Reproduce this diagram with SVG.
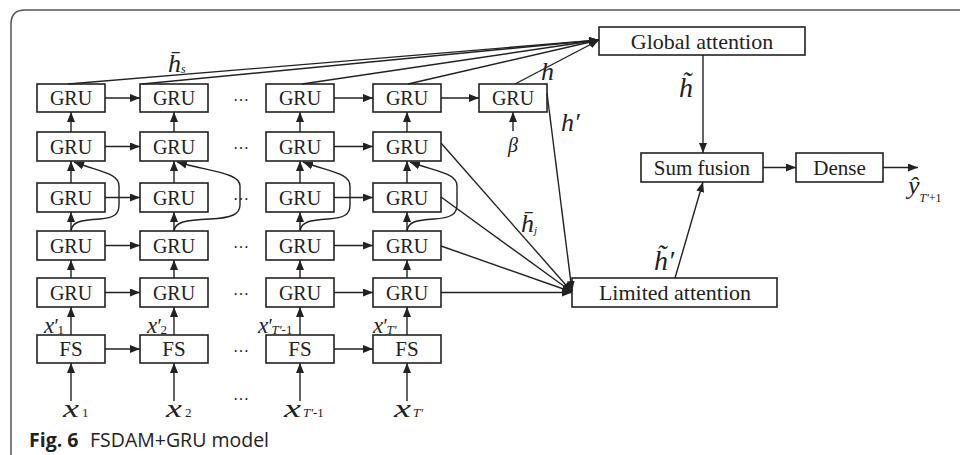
<svg xmlns="http://www.w3.org/2000/svg" width="960" height="455" viewBox="0 0 960 455">
<defs>
<marker id="ah" viewBox="0 0 10 8" refX="10" refY="4" markerWidth="10" markerHeight="8" markerUnits="userSpaceOnUse" orient="auto"><path d="M0,0 L10,4 L0,8 z" fill="#222"/></marker>
<style>
.box{fill:#fff;stroke:#222;stroke-width:1.6}
.lbl{font-family:"Liberation Serif","Times New Roman",serif;font-size:20px;fill:#222;text-anchor:middle}
.big{font-size:22px}
.mid{font-size:21px}
.var{font-family:"Liberation Serif","Times New Roman",serif;font-style:italic;fill:#222}
.sub{font-family:"Liberation Serif","Times New Roman",serif;font-size:13px;fill:#222}
.dots{font-family:"Liberation Serif",serif;font-size:16px;fill:#222;text-anchor:middle}
.c line,.c path{stroke:#222;stroke-width:1.4;fill:none}
.a{marker-end:url(#ah)}
.frame{fill:none;stroke:#555;stroke-width:1.5}
.cap{font-family:"Open Sans","Liberation Sans",sans-serif;font-size:19.5px;fill:#222}
</style>
</defs>
<rect width="960" height="455" fill="#fff"/>
<path class="frame" d="M11,455 L11,24 Q11,10 25,10 L960,10"/>

<!-- nodes -->
<g id="gru-1-1"><rect class="box" x="37" y="84" width="68" height="28"/><text class="lbl" x="71" y="105">GRU</text></g>
<g id="gru-1-2"><rect class="box" x="140" y="84" width="68" height="28"/><text class="lbl" x="174" y="105">GRU</text></g>
<g id="gru-1-3"><rect class="box" x="266" y="84" width="68" height="28"/><text class="lbl" x="300" y="105">GRU</text></g>
<g id="gru-1-4"><rect class="box" x="373" y="84" width="68" height="28"/><text class="lbl" x="407" y="105">GRU</text></g>
<g id="gru-1-5"><rect class="box" x="479" y="84" width="68" height="28"/><text class="lbl" x="513" y="105">GRU</text></g>

<g id="gru-2-1"><rect class="box" x="37" y="132" width="68" height="29"/><text class="lbl" x="71" y="153.5">GRU</text></g>
<g id="gru-2-2"><rect class="box" x="140" y="132" width="68" height="29"/><text class="lbl" x="174" y="153.5">GRU</text></g>
<g id="gru-2-3"><rect class="box" x="266" y="132" width="68" height="29"/><text class="lbl" x="300" y="153.5">GRU</text></g>
<g id="gru-2-4"><rect class="box" x="373" y="132" width="68" height="29"/><text class="lbl" x="407" y="153.5">GRU</text></g>

<g id="gru-3-1"><rect class="box" x="37" y="183" width="68" height="29"/><text class="lbl" x="71" y="204.5">GRU</text></g>
<g id="gru-3-2"><rect class="box" x="140" y="183" width="68" height="29"/><text class="lbl" x="174" y="204.5">GRU</text></g>
<g id="gru-3-3"><rect class="box" x="266" y="183" width="68" height="29"/><text class="lbl" x="300" y="204.5">GRU</text></g>
<g id="gru-3-4"><rect class="box" x="373" y="183" width="68" height="29"/><text class="lbl" x="407" y="204.5">GRU</text></g>

<g id="gru-4-1"><rect class="box" x="37" y="231" width="68" height="29"/><text class="lbl" x="71" y="252.5">GRU</text></g>
<g id="gru-4-2"><rect class="box" x="140" y="231" width="68" height="29"/><text class="lbl" x="174" y="252.5">GRU</text></g>
<g id="gru-4-3"><rect class="box" x="266" y="231" width="68" height="29"/><text class="lbl" x="300" y="252.5">GRU</text></g>
<g id="gru-4-4"><rect class="box" x="373" y="231" width="68" height="29"/><text class="lbl" x="407" y="252.5">GRU</text></g>

<g id="gru-5-1"><rect class="box" x="37" y="278" width="68" height="29"/><text class="lbl" x="71" y="299.5">GRU</text></g>
<g id="gru-5-2"><rect class="box" x="140" y="278" width="68" height="29"/><text class="lbl" x="174" y="299.5">GRU</text></g>
<g id="gru-5-3"><rect class="box" x="266" y="278" width="68" height="29"/><text class="lbl" x="300" y="299.5">GRU</text></g>
<g id="gru-5-4"><rect class="box" x="373" y="278" width="68" height="29"/><text class="lbl" x="407" y="299.5">GRU</text></g>

<g id="fs-1"><rect class="box" x="37" y="335" width="68" height="28"/><text class="lbl mid" x="71" y="356">FS</text></g>
<g id="fs-2"><rect class="box" x="140" y="335" width="68" height="28"/><text class="lbl mid" x="174" y="356">FS</text></g>
<g id="fs-3"><rect class="box" x="266" y="335" width="68" height="28"/><text class="lbl mid" x="300" y="356">FS</text></g>
<g id="fs-4"><rect class="box" x="373" y="335" width="68" height="28"/><text class="lbl mid" x="407" y="356">FS</text></g>

<g id="global-attention"><rect class="box" x="599" y="27" width="206" height="28"/><text class="lbl big" x="702" y="48.5">Global attention</text></g>
<g id="limited-attention"><rect class="box" x="572" y="278" width="205" height="29"/><text class="lbl big" x="675" y="300">Limited attention</text></g>
<g id="sum-fusion"><rect class="box" x="641" y="153" width="122" height="29"/><text class="lbl mid" x="702" y="174.5">Sum fusion</text></g>
<g id="dense"><rect class="box" x="796" y="153" width="87" height="29"/><text class="lbl mid" x="839.5" y="174.5">Dense</text></g>

<!-- connectors -->
<g id="connectors" class="c">
<line class="a" x1="105" y1="98" x2="140" y2="98"/>
<line class="a" x1="334" y1="98" x2="373" y2="98"/>
<line class="a" x1="441" y1="98" x2="479" y2="98"/>
<line class="a" x1="105" y1="146.5" x2="140" y2="146.5"/>
<line class="a" x1="334" y1="146.5" x2="373" y2="146.5"/>
<line class="a" x1="105" y1="197.5" x2="140" y2="197.5"/>
<line class="a" x1="334" y1="197.5" x2="373" y2="197.5"/>
<line class="a" x1="105" y1="245.5" x2="140" y2="245.5"/>
<line class="a" x1="334" y1="245.5" x2="373" y2="245.5"/>
<line class="a" x1="105" y1="292.5" x2="140" y2="292.5"/>
<line class="a" x1="334" y1="292.5" x2="373" y2="292.5"/>
<line class="a" x1="105" y1="349" x2="140" y2="349"/>
<line class="a" x1="334" y1="349" x2="373" y2="349"/>
<line class="a" x1="71" y1="401" x2="71" y2="363"/>
<line class="a" x1="71" y1="335" x2="71" y2="307"/>
<line class="a" x1="71" y1="278" x2="71" y2="260"/>
<line class="a" x1="71" y1="231" x2="71" y2="212"/>
<line class="a" x1="71" y1="183" x2="71" y2="161"/>
<line class="a" x1="71" y1="132" x2="71" y2="112"/>
<line class="a" x1="174" y1="401" x2="174" y2="363"/>
<line class="a" x1="174" y1="335" x2="174" y2="307"/>
<line class="a" x1="174" y1="278" x2="174" y2="260"/>
<line class="a" x1="174" y1="231" x2="174" y2="212"/>
<line class="a" x1="174" y1="183" x2="174" y2="161"/>
<line class="a" x1="174" y1="132" x2="174" y2="112"/>
<line class="a" x1="300" y1="401" x2="300" y2="363"/>
<line class="a" x1="300" y1="335" x2="300" y2="307"/>
<line class="a" x1="300" y1="278" x2="300" y2="260"/>
<line class="a" x1="300" y1="231" x2="300" y2="212"/>
<line class="a" x1="300" y1="183" x2="300" y2="161"/>
<line class="a" x1="300" y1="132" x2="300" y2="112"/>
<line class="a" x1="407" y1="401" x2="407" y2="363"/>
<line class="a" x1="407" y1="335" x2="407" y2="307"/>
<line class="a" x1="407" y1="278" x2="407" y2="260"/>
<line class="a" x1="407" y1="231" x2="407" y2="212"/>
<line class="a" x1="407" y1="183" x2="407" y2="161"/>
<line class="a" x1="407" y1="132" x2="407" y2="112"/>
<line class="a" x1="513" y1="131" x2="513" y2="112"/>
<path class="a" d="M71,231 C72,222 80,220 100,219 C114,218 119,214 119,205 L119,186 C119,173 100,172 74,162"/>
<path class="a" d="M174,231 C175,222 185,220 210,219 C232,218 240,214 240,205 L240,186 C240,173 212,172 177,162"/>
<path class="a" d="M300,231 C301,222 310,220 328,219 C345,218 350,214 350,205 L350,186 C350,173 330,172 303,162"/>
<path class="a" d="M407,231 C408,222 416,220 434,219 C451,218 457,214 457,205 L457,186 C457,173 437,172 410,162"/>
<line class="a" x1="68" y1="84" x2="599" y2="40"/>
<line class="a" x1="142" y1="84" x2="599" y2="40"/>
<line class="a" x1="302" y1="84" x2="599" y2="40"/>
<line class="a" x1="408" y1="84" x2="599" y2="40"/>
<line class="a" x1="515" y1="84" x2="599" y2="40"/>
<line class="a" x1="441" y1="143" x2="572" y2="292"/>
<line class="a" x1="441" y1="197" x2="572" y2="292"/>
<line class="a" x1="441" y1="246" x2="572" y2="292"/>
<line class="a" x1="441" y1="292.5" x2="572" y2="292.5"/>
<line class="a" x1="547" y1="93" x2="572" y2="291"/>
<line class="a" x1="703" y1="55" x2="703" y2="153"/>
<line class="a" x1="675" y1="278" x2="703" y2="182"/>
<line class="a" x1="763" y1="167.5" x2="796" y2="167.5"/>
<line class="a" x1="883" y1="167.5" x2="918" y2="167.5"/>
</g>

<g id="ellipses">
<text class="dots" x="241" y="101">…</text>
<text class="dots" x="241" y="149">…</text>
<text class="dots" x="241" y="200">…</text>
<text class="dots" x="241" y="248">…</text>
<text class="dots" x="241" y="295">…</text>
<text class="dots" x="241" y="352">…</text>
<text class="dots" x="241" y="400">…</text>
</g>

<g id="labels">
<text class="var" x="168" y="72" font-size="26">h̄<tspan font-size="12" dy="1">s</tspan></text>
<text class="var" x="541" y="80" font-size="26">h</text>
<text class="var" x="561" y="131" font-size="26">h′</text>
<text class="var" x="513" y="152" font-size="20" text-anchor="middle">β</text>
<text class="var" x="521" y="232" font-size="26">h̄<tspan font-size="11" dy="2">j</tspan></text>
<text class="var" x="679" y="97" font-size="28">h̃</text>
<text class="var" x="654" y="270" font-size="28">h̃′</text>
<text class="var" x="908" y="194" font-size="26">ŷ<tspan font-size="12" dy="8">T'</tspan><tspan font-size="12" font-style="normal">+1</tspan></text>

<text class="var" x="63" y="417" font-size="26" textLength="16" lengthAdjust="spacingAndGlyphs">x</text>
<text class="sub" x="82" y="417">1</text>
<text class="var" x="166" y="417" font-size="26" textLength="16" lengthAdjust="spacingAndGlyphs">x</text>
<text class="sub" x="185" y="417">2</text>
<text class="var" x="284" y="417" font-size="26" textLength="17" lengthAdjust="spacingAndGlyphs">x</text>
<text class="sub" x="303" y="417"><tspan font-style="italic">T'</tspan>-1</text>
<text class="var" x="394" y="417" font-size="26" textLength="17" lengthAdjust="spacingAndGlyphs">x</text>
<text class="sub" x="413" y="417" font-style="italic">T'</text>

<text class="var" x="44" y="333" font-size="23">x<tspan dx="-1" font-size="20">′</tspan><tspan class="sub" font-style="normal" font-size="13" dy="1">1</tspan></text>
<text class="var" x="147" y="333" font-size="23">x<tspan dx="-1" font-size="20">′</tspan><tspan font-style="normal" font-size="13" dy="1">2</tspan></text>
<text class="var" x="258" y="333" font-size="23">x<tspan dx="-1" font-size="20">′</tspan><tspan font-size="13" dy="1">T'</tspan><tspan font-style="normal" font-size="13">-1</tspan></text>
<text class="var" x="373" y="333" font-size="23">x<tspan dx="-1" font-size="20">′</tspan><tspan font-size="13" dy="1">T'</tspan></text>
</g>

<text class="cap" y="447"><tspan x="29" font-weight="bold">Fig. 6</tspan><tspan x="90">FSDAM+GRU model</tspan></text>
</svg>
